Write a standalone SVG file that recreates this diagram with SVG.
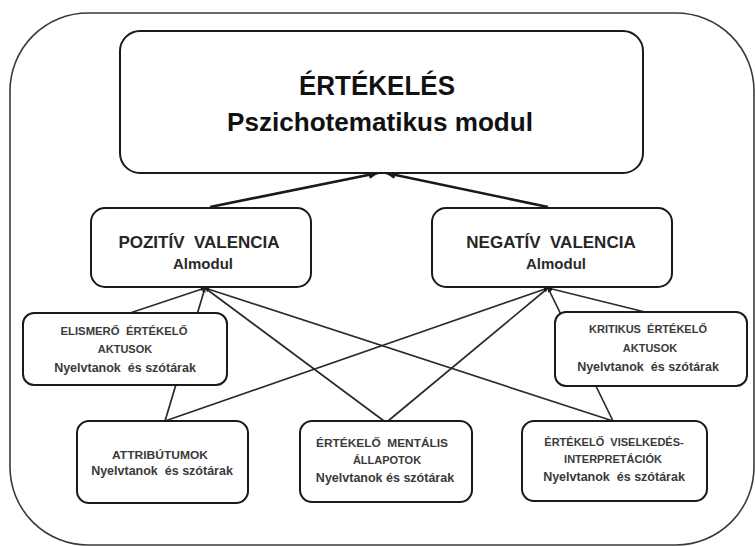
<svg xmlns="http://www.w3.org/2000/svg" width="755" height="546" viewBox="0 0 755 546">
  <style>
    .frame { fill: #ffffff; stroke: #3a3a3a; stroke-width: 1.6; }
    .box { fill: #ffffff; stroke: #1a1a1a; stroke-width: 2; }
    .big { font-family: "Liberation Sans", Arial, sans-serif; font-weight: bold; fill: #111; text-anchor: middle; }
    .mid { font-family: "Liberation Sans", Arial, sans-serif; font-weight: bold; fill: #262626; text-anchor: middle; font-size: 17px; }
    .sub { font-family: "Liberation Sans", Arial, sans-serif; font-weight: bold; fill: #2a2a2a; text-anchor: middle; font-size: 15px; }
    .cap { font-family: "Liberation Sans", Arial, sans-serif; font-weight: bold; fill: #3a3a3a; text-anchor: middle; font-size: 11px; }
    .low { font-family: "Liberation Sans", Arial, sans-serif; font-weight: bold; fill: #3a3a3a; text-anchor: middle; font-size: 12.5px; }
    .arrow { stroke: #1a1a1a; stroke-width: 2.6; fill: none; }
    .link { stroke: #2a2a2a; stroke-width: 1.7; fill: none; }
  </style>
  <defs>
    <marker id="ah" viewBox="0 0 10 10" refX="9" refY="5" markerWidth="4" markerHeight="4" orient="auto" markerUnits="strokeWidth">
      <path d="M0,1 L10,5 L0,9 Z" fill="#1a1a1a"/>
    </marker>
    <marker id="ahs" viewBox="0 0 10 10" refX="9" refY="5" markerWidth="2.8" markerHeight="2.8" orient="auto" markerUnits="strokeWidth">
      <path d="M0,1 L10,5 L0,9 Z" fill="#1a1a1a"/>
    </marker>
  </defs>

  <rect id="frame" class="frame" x="10" y="13" width="744" height="532" rx="78" ry="78"/>

  <g id="connectors">
    <line class="arrow" x1="210" y1="207" x2="378" y2="173" marker-end="url(#ah)"/>
    <line class="arrow" x1="548" y1="207" x2="386" y2="173" marker-end="url(#ah)"/>
    <line class="link" x1="130" y1="313" x2="205" y2="288" marker-end="url(#ahs)"/>
    <line class="link" x1="165" y1="421" x2="205" y2="288" marker-end="url(#ahs)"/>
    <line class="link" x1="384" y1="421" x2="205" y2="288" marker-end="url(#ahs)"/>
    <line class="link" x1="613" y1="421" x2="205" y2="288" marker-end="url(#ahs)"/>
    <line class="link" x1="645" y1="312" x2="548" y2="288" marker-end="url(#ahs)"/>
    <line class="link" x1="613" y1="421" x2="548" y2="288" marker-end="url(#ahs)"/>
    <line class="link" x1="388" y1="421" x2="548" y2="288" marker-end="url(#ahs)"/>
    <line class="link" x1="165" y1="421" x2="548" y2="288" marker-end="url(#ahs)"/>
  </g>

  <g id="ertekeles">
    <rect class="box" x="120" y="31" width="523" height="142" rx="20"/>
    <text class="big" x="377" y="95" font-size="27" textLength="156" lengthAdjust="spacingAndGlyphs">ÉRTÉKELÉS</text>
    <text class="big" x="380" y="131" font-size="26" textLength="306" lengthAdjust="spacingAndGlyphs">Pszichotematikus modul</text>
  </g>

  <g id="pozitiv">
    <rect class="box" x="91" y="208" width="220" height="79" rx="14"/>
    <text class="mid" x="199" y="248" xml:space="preserve">POZITÍV  VALENCIA</text>
    <text class="sub" x="203" y="269">Almodul</text>
  </g>

  <g id="negativ">
    <rect class="box" x="432" y="208" width="240" height="79" rx="14"/>
    <text class="mid" x="551" y="248" xml:space="preserve">NEGATÍV  VALENCIA</text>
    <text class="sub" x="556" y="269">Almodul</text>
  </g>

  <g id="elismero">
    <rect class="box" x="23" y="313" width="204" height="72" rx="11"/>
    <text class="cap" x="124" y="335" xml:space="preserve" textLength="127" lengthAdjust="spacingAndGlyphs">ELISMERŐ  ÉRTÉKELŐ</text>
    <text class="cap" x="125" y="353">AKTUSOK</text>
    <text class="low" x="125" y="372" xml:space="preserve">Nyelvtanok  és szótárak</text>
  </g>

  <g id="kritikus">
    <rect class="box" x="555" y="312" width="192" height="74" rx="11"/>
    <text class="cap" x="648" y="333" xml:space="preserve">KRITIKUS  ÉRTÉKELŐ</text>
    <text class="cap" x="650" y="352">AKTUSOK</text>
    <text class="low" x="648" y="371" xml:space="preserve">Nyelvtanok  és szótárak</text>
  </g>

  <g id="attributumok">
    <rect class="box" x="77" y="421" width="171" height="82" rx="12"/>
    <text class="cap" x="160" y="459" textLength="96" lengthAdjust="spacingAndGlyphs">ATTRIBÚTUMOK</text>
    <text class="low" x="162" y="475" xml:space="preserve">Nyelvtanok  és szótárak</text>
  </g>

  <g id="mentalis">
    <rect class="box" x="300" y="421" width="172" height="81" rx="12"/>
    <text class="cap" x="382" y="447" xml:space="preserve" textLength="132" lengthAdjust="spacingAndGlyphs">ÉRTÉKELŐ  MENTÁLIS</text>
    <text class="cap" x="387" y="464">ÁLLAPOTOK</text>
    <text class="low" x="385" y="482">Nyelvtanok és szótárak</text>
  </g>

  <g id="viselkedes">
    <rect class="box" x="522" y="421" width="185" height="80" rx="12"/>
    <text class="cap" x="614" y="446" xml:space="preserve">ÉRTÉKELŐ  VISELKEDÉS-</text>
    <text class="cap" x="613" y="463">INTERPRETÁCIÓK</text>
    <text class="low" x="614" y="481" xml:space="preserve">Nyelvtanok  és szótárak</text>
  </g>
</svg>
